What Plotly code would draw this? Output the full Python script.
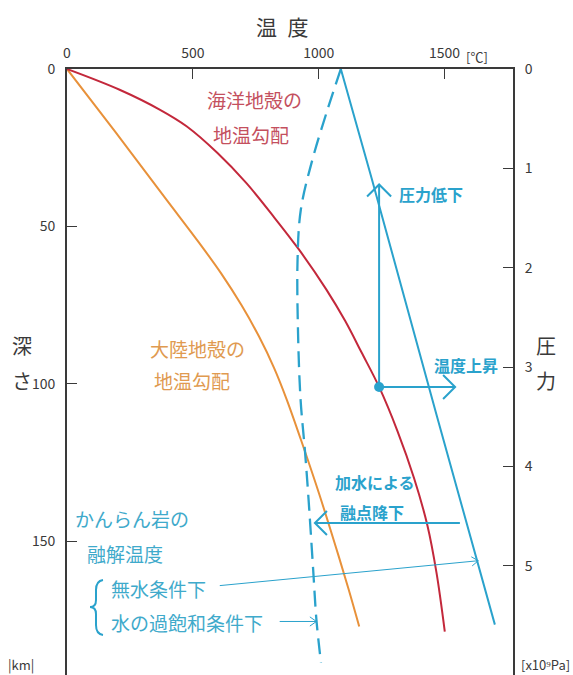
import math
import plotly.graph_objects as go

# ---------------- data ----------------
temp_ticks = [0, 500, 1000, 1500]
depth_ticks = [0, 50, 100, 150]
pressure_ticks = [0, 1, 2, 3, 4, 5]

ocean_depth = [0, 6.6, 12.9, 18.2, 26.7, 36.2, 46.8, 57.4, 70, 80, 90, 101, 115, 130, 145, 160, 178.7]
ocean_temp = [0, 209, 368, 475, 598, 712, 820, 922, 1030, 1105, 1170, 1240, 1313, 1379, 1432, 1468, 1501]

cont_depth = [0, 20, 41.5, 55, 65, 75, 85, 95, 105, 120, 135, 150, 165, 177.1]
cont_temp = [0, 192, 395, 523, 613, 693, 763, 823, 873, 939, 1002, 1061, 1118, 1161]

dry_depth = [0, 34.6, 110.4, 176.5]
dry_temp = [1088, 1210, 1470, 1700]

wet_depth = [0, 12.9, 28.8, 44.7, 60.6, 83.9, 105, 120.9, 134.7, 159, 175, 188.6]
wet_temp = [1088, 1035, 975, 929, 916, 918, 928, 945, 958, 978, 991, 1009]

point_temp, point_depth = 1240, 101
pressure_drop_tip_depth = 36.7
temp_rise_tip_temp = 1542
wet_arrow = dict(t0=1561, t1=985, d=144.2)
dry_note_arrow = dict(t0=607, d0=164.1, t1=1634, d1=156.2)
sat_note_arrow = dict(t0=845, t1=991, d=175.5)

# ---------------- layout geometry ----------------
W, H = 573, 675
ML, MR, MT, MB = 67, 60, 69, 0
PW, PH = W - ML - MR, H - MT - MB
XMAX = 1772
YMAX = 192.5
KM_PER_GPA = 31.56
SX = PW / XMAX
SY = PH / YMAX

def head(xt, yt, xf, yf, L, ang):
    dx, dy = (xt - xf) * SX, (yt - yf) * SY
    n = math.hypot(dx, dy)
    ux, uy = dx / n, dy / n
    xs, ys = [], []
    for s in (1, -1):
        a = math.radians(ang) * s
        rx = ux * math.cos(a) - uy * math.sin(a)
        ry = ux * math.sin(a) + uy * math.cos(a)
        xs.append(xt - L * rx / SX)
        ys.append(yt - L * ry / SY)
    return [xs[0], xt, xs[1]], [ys[0], yt, ys[1]]

RED = "#C3283B"
ORANGE = "#E8913A"
BLUE = "#2AA2CC"
RED_T = "#C4505E"
ORANGE_T = "#E09A50"
BLUE_T = "#3FAACB"
AX = "#3a3a3a"
FONT = "Noto Sans CJK JP"

fig = go.Figure()

def line(x, y, color, width, dash=None, shape="linear"):
    fig.add_trace(go.Scatter(x=x, y=y, mode="lines", showlegend=False, hoverinfo="skip",
                             line=dict(color=color, width=width, dash=dash, shape=shape)))

line(cont_temp, cont_depth, ORANGE, 2, shape="spline")
line(ocean_temp, ocean_depth, RED, 2, shape="spline")
line(dry_temp, dry_depth, BLUE, 2)
line(wet_temp, wet_depth, BLUE, 2.3, dash="16px,8px", shape="spline")

# pressure-drop arrow
line([point_temp, point_temp], [point_depth, pressure_drop_tip_depth], BLUE, 2)
hx, hy = head(point_temp, pressure_drop_tip_depth, point_temp, point_depth, 17, 45)
line(hx, hy, BLUE, 2)
# temperature-rise arrow
line([point_temp, temp_rise_tip_temp], [point_depth, point_depth], BLUE, 2)
hx, hy = head(temp_rise_tip_temp, point_depth, point_temp, point_depth, 17, 45)
line(hx, hy, BLUE, 2)
# water addition arrow
line([wet_arrow["t0"], wet_arrow["t1"]], [wet_arrow["d"], wet_arrow["d"]], BLUE, 2)
hx, hy = head(wet_arrow["t1"], wet_arrow["d"], wet_arrow["t0"], wet_arrow["d"], 17, 45)
line(hx, hy, BLUE, 2)
# thin note arrows
line([dry_note_arrow["t0"], dry_note_arrow["t1"]], [dry_note_arrow["d0"], dry_note_arrow["d1"]], BLUE, 1)
hx, hy = head(dry_note_arrow["t1"], dry_note_arrow["d1"], dry_note_arrow["t0"], dry_note_arrow["d0"], 8, 35)
line(hx, hy, BLUE, 1)
line([sat_note_arrow["t0"], sat_note_arrow["t1"]], [sat_note_arrow["d"], sat_note_arrow["d"]], BLUE, 1)
hx, hy = head(sat_note_arrow["t1"], sat_note_arrow["d"], sat_note_arrow["t0"], sat_note_arrow["d"], 8, 35)
line(hx, hy, BLUE, 1)

fig.add_trace(go.Scatter(x=[point_temp], y=[point_depth], mode="markers", showlegend=False,
                         marker=dict(color=BLUE, size=10), hoverinfo="skip"))
fig.add_trace(go.Scatter(x=[None], y=[None], yaxis="y2", showlegend=False))

# ---------------- text ----------------
def txt(px, py, s, color, size, bold=False, xanchor="center"):
    if bold:
        s = "<b>" + s + "</b>"
    fig.add_annotation(x=(px - ML) / PW, y=1 - (py - MT) / PH, xref="paper", yref="paper",
                       text=s, showarrow=False, xanchor=xanchor, yanchor="middle",
                       font=dict(family=FONT, size=size, color=color))

txt(254, 99, "海洋地殻の", RED_T, 19)
txt(251, 134, "地温勾配", RED_T, 19)
txt(197, 348, "大陸地殻の", ORANGE_T, 19)
txt(192, 380, "地温勾配", ORANGE_T, 19)
txt(73, 518, "かんらん岩の", BLUE_T, 19, xanchor="left")
txt(85, 553, "融解温度", BLUE_T, 19, xanchor="left")
txt(109, 588, "無水条件下", BLUE_T, 19, xanchor="left")
txt(109, 622, "水の過飽和条件下", BLUE_T, 19, xanchor="left")
txt(397, 194, "圧力低下", BLUE, 16, bold=True, xanchor="left")
txt(432, 365, "温度上昇", BLUE, 16, bold=True, xanchor="left")
txt(333, 482, "加水による", BLUE, 16, bold=True, xanchor="left")
txt(338, 512, "融点降下", BLUE, 16, bold=True, xanchor="left")

txt(282, 26, "温\u2002度", AX, 21)
txt(22, 345, "深", AX, 20)
txt(22, 380, "さ", AX, 20)
txt(546, 345, "圧", AX, 20)
txt(546, 380, "力", AX, 20)
txt(477, 57, "[℃]", AX, 13)
txt(21, 664, "|km|", AX, 13)
txt(545, 664, "[x10⁹Pa]", AX, 13)

# brace
def pp(px, py):
    return f"{(px - ML) / PW:.5f},{1 - (py - MT) / PH:.5f}"
brace = ("M " + pp(103, 580) + " Q " + pp(96, 581) + " " + pp(96, 590) +
         " L " + pp(96, 600) + " Q " + pp(96, 607) + " " + pp(90, 607) +
         " Q " + pp(96, 607) + " " + pp(96, 614) + " L " + pp(96, 625) +
         " Q " + pp(96, 634) + " " + pp(103, 635))
fig.add_shape(type="path", path=brace, xref="paper", yref="paper",
              line=dict(color=BLUE, width=2))

tickfont = dict(family=FONT, size=14, color=AX)
fig.update_layout(
    width=W, height=H, margin=dict(l=ML, r=MR, t=MT, b=MB, pad=0),
    paper_bgcolor="white", plot_bgcolor="white",
    xaxis=dict(side="top", range=[0, XMAX], tickvals=temp_ticks, ticks="inside", ticklen=10,
               tickwidth=1.2, tickcolor=AX, showline=True, linecolor=AX, linewidth=2,
               showgrid=False, zeroline=False, tickfont=tickfont, ticklabelstandoff=3),
    yaxis=dict(range=[YMAX, 0], tickvals=depth_ticks, ticks="inside", ticklen=10,
               tickwidth=1.2, tickcolor=AX, showline=True, linecolor=AX, linewidth=2,
               showgrid=False, zeroline=False, tickfont=tickfont, ticklabelstandoff=7),
    yaxis2=dict(overlaying="y", side="right", range=[YMAX / KM_PER_GPA, 0], tickvals=pressure_ticks,
                ticks="inside", ticklen=10, tickwidth=1.2, tickcolor=AX, showline=True,
                linecolor=AX, linewidth=2, showgrid=False, zeroline=False, tickfont=tickfont,
                ticklabelstandoff=7),
)

fig.write_html("out.html")
